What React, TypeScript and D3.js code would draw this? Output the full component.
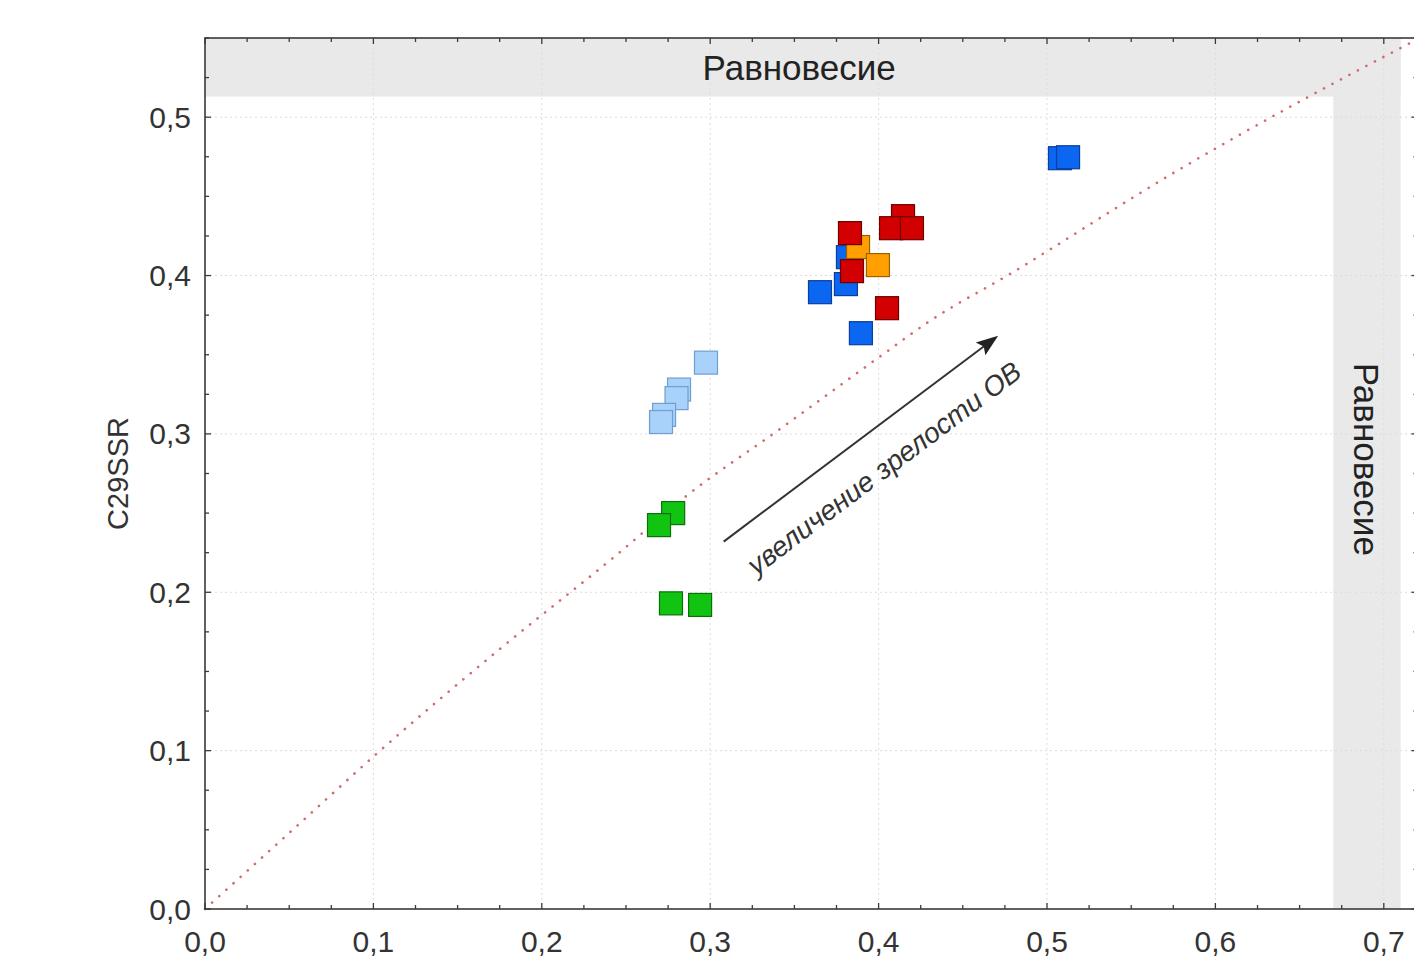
import React, { useEffect } from "react";
import * as d3 from "d3";

// ---- data ----
const lightBlueX = [0.2975, 0.2815, 0.28, 0.2726, 0.2708];
const lightBlueY = [0.345, 0.328, 0.3226, 0.312, 0.3075];
const greenX = [0.278, 0.2696, 0.2767, 0.294];
const greenY = [0.25, 0.2424, 0.193, 0.192];
const blueX = [0.5077, 0.5125, 0.3652, 0.3806, 0.3818, 0.3895];
const blueY = [0.4741, 0.4747, 0.3895, 0.3946, 0.4116, 0.3636];
const orangeX = [0.3878, 0.3996];
const orangeY = [0.418, 0.4066];
const redX = [0.4145, 0.383, 0.4074, 0.4198, 0.3842, 0.405];
const redY = [0.4375, 0.4268, 0.4299, 0.4299, 0.4028, 0.3794];

// dotted maturation path
const pathX = [0, 0.05, 0.104, 0.176, 0.246, 0.286, 0.34, 0.401, 0.43, 0.478, 0.577, 0.652, 0.716];
const pathY = [0, 0.048, 0.1, 0.165, 0.225, 0.261, 0.302, 0.349, 0.371, 0.401, 0.466, 0.511, 0.547];

// equilibrium zones
const eqY = [0.513, 0.55];
const eqX = [0.67, 0.71];

// arrow (start, end)
const arrowX = [0.308, 0.471];
const arrowY = [0.232, 0.362];

const xTicks = [0, 0.1, 0.2, 0.3, 0.4, 0.5, 0.6, 0.7];
const yTicks = [0, 0.1, 0.2, 0.3, 0.4, 0.5];

const W = 1414, H = 978;
const margin = { left: 205, top: 38, bottom: 69 };
const innerW = 0.72 * 1684;
const innerH = H - margin.top - margin.bottom;

const fmt = (d: number) => d3.format(".1f")(d).replace(".", ",");

const groups = [
  { xs: lightBlueX, ys: lightBlueY, fill: "#a9d2fa", stroke: "#6f9fd2" },
  { xs: greenX, ys: greenY, fill: "#12c412", stroke: "#0b6f0b" },
  { xs: blueX, ys: blueY, fill: "#0b66f2", stroke: "#0a3f9c" },
  { xs: orangeX, ys: orangeY, fill: "#ffa000", stroke: "#9a6100" },
  { xs: redX, ys: redY, fill: "#d20000", stroke: "#6e0000" },
];

export default function App() {
  useEffect(() => {
    document.body.style.margin = "0";
  }, []);

  const x = d3.scaleLinear().domain([0, 0.72]).range([0, innerW]);
  const y = d3.scaleLinear().domain([0, 0.55]).range([innerH, 0]);

  const minorX = d3.range(0, 0.7201, 0.025);
  const minorY = d3.range(0, 0.5501, 0.025);

  const line = d3
    .line<number>()
    .x((_, i) => x(pathX[i]))
    .y((_, i) => y(pathY[i]))
    .curve(d3.curveMonotoneX);

  const ax0 = x(arrowX[0]), ay0 = y(arrowY[0]);
  const ax1 = x(arrowX[1]), ay1 = y(arrowY[1]);
  const ang = (Math.atan2(ay1 - ay0, ax1 - ax0) * 180) / Math.PI;
  const len = Math.hypot(ax1 - ax0, ay1 - ay0);

  const sz = 23;
  const font = "'Liberation Sans', Arial, sans-serif";
  const isMajor = (v: number) => Math.abs(v * 10 - Math.round(v * 10)) < 1e-6;

  return (
    <svg width={W} height={H} style={{ display: "block" }} fontFamily={font}>
      <rect width={W} height={H} fill="#fff" />
      <g transform={`translate(${margin.left},${margin.top})`}>
        {/* equilibrium bands */}
        <rect x={x(0)} y={y(eqY[1])} width={x(eqX[1]) - x(0)} height={y(eqY[0]) - y(eqY[1])} fill="#e9e9e9" />
        <rect x={x(eqX[0])} y={y(eqY[1])} width={x(eqX[1]) - x(eqX[0])} height={y(0) - y(eqY[1])} fill="#e9e9e9" />

        {/* grid */}
        {xTicks.slice(1).map((t) => (
          <line key={"gx" + t} x1={x(t)} x2={x(t)} y1={0} y2={innerH} stroke="#dcdcdc" strokeWidth={1} strokeDasharray="2 3" />
        ))}
        {yTicks.slice(1).map((t) => (
          <line key={"gy" + t} x1={0} x2={innerW} y1={y(t)} y2={y(t)} stroke="#dcdcdc" strokeWidth={1} strokeDasharray="2 3" />
        ))}

        {/* band labels */}
        <text x={(x(0) + x(eqX[0])) / 2 + 30} y={(y(eqY[0]) + y(eqY[1])) / 2} fontSize={35} fill="#222" textAnchor="middle" dominantBaseline="central">
          Равновесие
        </text>
        <text
          transform={`translate(${(x(eqX[0]) + x(eqX[1])) / 2},${y(0.284)}) rotate(90)`}
          fontSize={35}
          fill="#222"
          textAnchor="middle"
          dominantBaseline="central"
        >
          Равновесие
        </text>

        {/* dotted path */}
        <path d={line(pathX) || ""} fill="none" stroke="#d46a6a" strokeWidth={2.6} strokeDasharray="0.1 9.5" strokeLinecap="round" />

        {/* arrow */}
        <g transform={`translate(${ax0},${ay0}) rotate(${ang})`}>
          <line x1={0} y1={0} x2={len - 16} y2={0} stroke="#333" strokeWidth={2} />
          <path d={`M${len},0 L${len - 22},-8 L${len - 18},0 L${len - 22},8 Z`} fill="#222" />
          <text x={len / 2 + 1} y={47} fontSize={28} fontStyle="italic" fill="#333" textAnchor="middle">
            увеличение зрелости ОВ
          </text>
        </g>

        {/* markers */}
        {groups.map((g, gi) =>
          g.xs.map((v, i) => (
            <rect
              key={gi + "-" + i}
              x={x(v) - sz / 2}
              y={y(g.ys[i]) - sz / 2}
              width={sz}
              height={sz}
              fill={g.fill}
              stroke={g.stroke}
              strokeWidth={1.2}
            />
          ))
        )}

        {/* frame */}
        <rect x={0} y={0} width={innerW} height={innerH} fill="none" stroke="#3a3a3a" strokeWidth={1.6} />

        {/* ticks, inside on all sides */}
        {minorX.map((t) => {
          const l = isMajor(t) ? 6 : 4;
          return (
            <g key={"tx" + t} stroke="#3a3a3a" strokeWidth={1.3}>
              <line x1={x(t)} x2={x(t)} y1={innerH} y2={innerH - l} />
              <line x1={x(t)} x2={x(t)} y1={0} y2={l} />
            </g>
          );
        })}
        {minorY.map((t) => {
          const l = isMajor(t) ? 6 : 4;
          return (
            <g key={"ty" + t} stroke="#3a3a3a" strokeWidth={1.3}>
              <line x1={0} x2={l} y1={y(t)} y2={y(t)} />
              <line x1={innerW} x2={innerW - l} y1={y(t)} y2={y(t)} />
            </g>
          );
        })}

        {/* tick labels */}
        {xTicks.map((t) => (
          <text key={"lx" + t} x={x(t)} y={innerH + 43} fontSize={30} fill="#333" textAnchor="middle">
            {fmt(t)}
          </text>
        ))}
        {yTicks.map((t) => (
          <text key={"ly" + t} x={-14} y={y(t)} fontSize={30} fill="#333" textAnchor="end" dominantBaseline="central">
            {fmt(t)}
          </text>
        ))}

        {/* y title */}
        <text transform={`translate(${-87},${y(0.275)}) rotate(-90)`} fontSize={29} fill="#333" textAnchor="middle" dominantBaseline="central">
          C29SSR
        </text>
      </g>
    </svg>
  );
}
